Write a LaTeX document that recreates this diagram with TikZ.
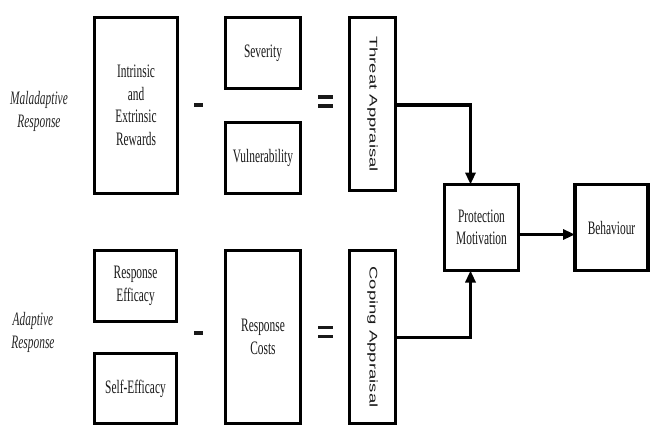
\documentclass[tikz,border=0pt]{standalone}
\usepackage{fontspec}
\usepackage{graphicx}
\setmainfont{Liberation Serif}[FakeStretch=0.6]
\newfontfamily\rotfont{Liberation Sans}
\usetikzlibrary{arrows.meta}
\tikzset{
  box/.style={draw=black, line width=3.2pt, inner sep=0pt, outer sep=0pt, align=center,
    text=black!90, font=\fontsize{19}{22.5}\selectfont},
  lbl/.style={align=center, text=black!85, font=\itshape\fontsize{19}{23}\selectfont},
  conn/.style={line width=3pt, -{Triangle[width=10pt,length=12pt]}},
  opsign/.style={line width=3.2pt, black!90}
}
\newcommand{\rottext}[1]{\rotatebox{-90}{\rotfont\fontsize{18.5}{20}\selectfont\scalebox{1}[0.6]{#1}}}
\begin{document}
\begin{tikzpicture}[x=1pt,y=-1pt]
\useasboundingbox (0,0) rectangle (651,428);
% left labels
\node[lbl] (lblM) at (39,111) {Maladaptive\\Response};
\node[lbl] (lblA) at (33,332) {Adaptive\\Response};
% top row
\node[box, minimum width=83, minimum height=176] (intr) at (136,105.5) {Intrinsic\\and\\Extrinsic\\Rewards};
\node[box, minimum width=75, minimum height=71] (sev) at (263,53) {Severity};
\node[box, minimum width=75, minimum height=71] (vul) at (263,158) {Vulnerability};
\node[box, minimum width=46, minimum height=173] (threat) at (372.5,104) {\rottext{Threat Appraisal}};
% bottom row
\node[box, minimum width=82, minimum height=71] (reff) at (135.5,286) {Response\\Efficacy};
\node[box, minimum width=82, minimum height=70] (self) at (135.5,388.5) {Self-Efficacy};
\node[box, minimum width=75, minimum height=173] (cost) at (263,337) {Response\\Costs};
\node[box, minimum width=46, minimum height=173] (coping) at (372.5,337) {\rottext{Coping Appraisal}};
% right
\node[box, minimum width=74, minimum height=86] (prot) at (481.5,227.5) {Protection\\Motivation};
\node[box, minimum width=73, minimum height=86] (beh) at (611.5,227.5) {Behaviour};
% operators
\draw[opsign] (194,105) -- (203,105);
\draw[opsign] (318,97) -- (333,97);
\draw[opsign] (318,106) -- (333,106);
\draw[opsign] (194,333) -- (203,333);
\draw[opsign] (318,327.5) -- (333,327.5);
\draw[opsign] (318,336.5) -- (333,336.5);
% connectors
\draw[conn] ([yshift=-1pt]threat.east) -| ([xshift=-11pt]prot.north);
\draw[conn] (coping.east) -| ([xshift=-11pt]prot.south);
\draw[conn] ([yshift=-7pt]prot.east) -- ([yshift=-7pt]beh.west);
\end{tikzpicture}
\end{document}
